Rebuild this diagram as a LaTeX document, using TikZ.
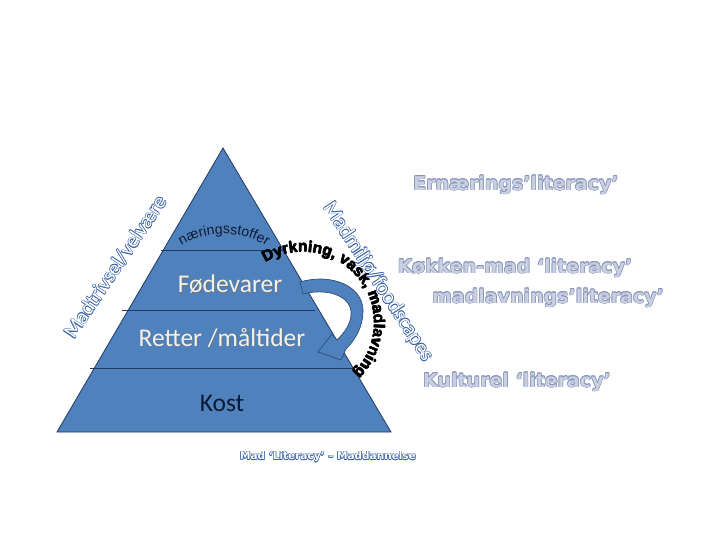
\documentclass[tikz,border=0pt]{standalone}
\usepackage{fontspec}
\setmainfont{Carlito}
\newfontfamily\arialfont{Liberation Sans}
\newfontfamily\wordfont{DejaVu Sans}
\usetikzlibrary{positioning,decorations.text}
\definecolor{pyrblue}{HTML}{4F81BD}
\definecolor{pyrline}{HTML}{1F3864}
\definecolor{arrline}{HTML}{2C4D75}
\definecolor{outblue}{HTML}{3A64A8}
\definecolor{litfill}{HTML}{C9D0E2}
\definecolor{litline}{HTML}{8491B8}
\definecolor{kostcol}{HTML}{0E1A33}
\definecolor{layertext}{HTML}{F2F2EC}
% outlined text: outline colour, fill colour, text
\newcommand\outl[3]{\leavevmode
  \rlap{\color{#1}\kern-.6pt#3}\rlap{\color{#1}\kern.6pt#3}%
  \rlap{\color{#1}\raisebox{.6pt}{#3}}\rlap{\color{#1}\raisebox{-.6pt}{#3}}%
  \rlap{\color{#1}\kern.45pt\raisebox{.45pt}{#3}}\rlap{\color{#1}\kern-.45pt\raisebox{.45pt}{#3}}%
  \rlap{\color{#1}\kern.45pt\raisebox{-.45pt}{#3}}\rlap{\color{#1}\kern-.45pt\raisebox{-.45pt}{#3}}%
  {\color{#2}#3}}
% light text with a soft shadow
\newcommand\shad[1]{\leavevmode\rlap{\color{black!55}\kern.8pt\raisebox{-.8pt}{#1}}{\color{layertext}#1}}
\tikzset{
  layer/.style={font=\fontsize{25.5}{28}\selectfont, inner sep=0pt},
  sidetext/.style={font=\fontsize{21}{24}\selectfont, inner sep=0pt},
  literacy/.style={font=\wordfont\bfseries\fontsize{19}{22}\selectfont, inner sep=0pt},
  divider/.style={pyrline, line width=0.8pt},
}
\begin{document}
\begin{tikzpicture}[x=1pt,y=-1pt]
  \useasboundingbox (0,0) rectangle (720,540);
  % pyramid
  \coordinate (apex) at (223,148);
  \coordinate (bl) at (57,432);
  \coordinate (br) at (391,432);
  \draw[divider, fill=pyrblue] (apex) -- (br) -- (bl) -- cycle;
  \draw[divider] (161,250) -- (283,250);
  \draw[divider] (122,310) -- (315,310);
  \draw[divider] (90,368) -- (353,368);

  \node[layer] (foede) at (230,285) {\shad{Fødevarer}};
  \node[layer] (retter) at (222,338) {\shad{Retter /måltider}};
  \node[layer, text=kostcol] (kost) at (222,403) {Kost};

  % curved arrow
  \draw[arrline, fill=pyrblue, line width=0.7pt]
    (300,282) .. controls (330,273) and (363,285) .. (363,311)
    .. controls (363,326) and (356,339) .. (346,349)
    -- (341,360) -- (318,352) -- (332,334) -- (337,340)
    .. controls (346,331) and (352,322) .. (351,311)
    .. controls (349,295) and (326,288) .. (303,294) -- cycle;

  % text along arcs
  \path[decorate, decoration={text along path, text align=center,
      text={|\arialfont\fontsize{14}{16}\selectfont\color{kostcol}|næringsstoffer}}]
    (224,316) ++(-126:82) arc (-126:-54:82);
  \foreach \dx/\dy in {-0.35/0, 0.35/0, 0/-0.35, 0/0.35}
    \path[decorate, decoration={text along path, text align=fit to path,
        text={|\arialfont\bfseries\fontsize{15.5}{18}\selectfont|Dyrkning, vask, madlavning}}]
      (303+\dx,323+\dy) ++(-122:71) arc (-122:45:71);

  % rotated side labels
  \node[sidetext, rotate=56] (trivsel) at (115,267) {\outl{outblue}{white}{Madtrivsel/velvære}};
  \node[sidetext, rotate=-57] (miljo) at (378,282) {\outl{outblue}{white}{Madmiljø/foodscapes}};

  % literacy labels
  \node[literacy] (ern) at (516,185) {\outl{litline}{litfill}{Ernærings’literacy’}};
  \node[literacy] (koek) at (515,268) {\outl{litline}{litfill}{Køkken-mad ‘literacy’}};
  \node[literacy] (madl) at (548,298) {\outl{litline}{litfill}{madlavnings’literacy’}};
  \node[literacy] (kult) at (517,382) {\outl{litline}{litfill}{Kulturel ‘literacy’}};

  \node[font=\wordfont\bfseries\fontsize{10.5}{12}\selectfont, inner sep=0pt] (title) at (328,457)
    {\outl{outblue}{white}{Mad ‘Literacy’ – Maddannelse}};
\end{tikzpicture}
\end{document}
